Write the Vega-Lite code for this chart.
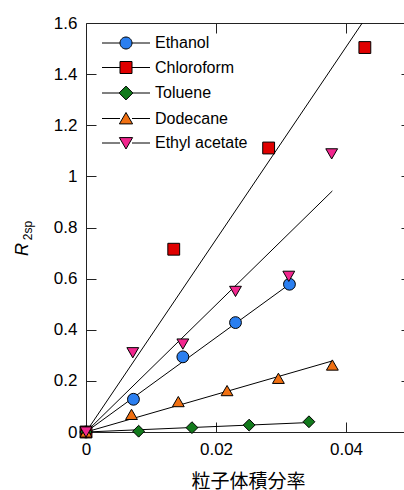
{
  "$schema": "https://vega.github.io/schema/vega-lite/v6.json",
  "width": 325,
  "height": 409,
  "autosize": {"type": "none"},
  "padding": {"left": 86, "top": 23, "right": 0, "bottom": 58},
  "background": "white",
  "config": {
    "view": {"stroke": "#222", "strokeWidth": 1},
    "font": "Liberation Sans",
    "axis": {"grid": false, "labelFlush": false, "labelOverlap": false}
  },
  "datasets": {
    "fits": [
      {"series": "Ethanol", "x": 0, "y": 0},
      {"series": "Ethanol", "x": 0.0313, "y": 0.578},
      {"series": "Chloroform", "x": 0, "y": 0},
      {"series": "Chloroform", "x": 0.0425, "y": 1.6},
      {"series": "Toluene", "x": 0, "y": 0},
      {"series": "Toluene", "x": 0.0343, "y": 0.037},
      {"series": "Dodecane", "x": 0, "y": 0},
      {"series": "Dodecane", "x": 0.0379, "y": 0.278},
      {"series": "Ethyl acetate", "x": 0, "y": 0},
      {"series": "Ethyl acetate", "x": 0.0379, "y": 0.943}
    ],
    "pts": [
      {"series": "Ethanol", "x": 0, "y": 0},
      {"series": "Ethanol", "x": 0.0073, "y": 0.128},
      {"series": "Ethanol", "x": 0.0149, "y": 0.294},
      {"series": "Ethanol", "x": 0.0230, "y": 0.428},
      {"series": "Ethanol", "x": 0.0313, "y": 0.578},
      {"series": "Chloroform", "x": 0, "y": 0},
      {"series": "Chloroform", "x": 0.0135, "y": 0.715},
      {"series": "Chloroform", "x": 0.0281, "y": 1.111},
      {"series": "Chloroform", "x": 0.0429, "y": 1.504},
      {"series": "Toluene", "x": 0, "y": 0},
      {"series": "Toluene", "x": 0.0081, "y": 0.003},
      {"series": "Toluene", "x": 0.0163, "y": 0.017},
      {"series": "Toluene", "x": 0.0251, "y": 0.027},
      {"series": "Toluene", "x": 0.0343, "y": 0.040},
      {"series": "Dodecane", "x": 0, "y": 0},
      {"series": "Dodecane", "x": 0.0070, "y": 0.069},
      {"series": "Dodecane", "x": 0.0142, "y": 0.119},
      {"series": "Dodecane", "x": 0.0217, "y": 0.162},
      {"series": "Dodecane", "x": 0.0296, "y": 0.210},
      {"series": "Dodecane", "x": 0.0379, "y": 0.262},
      {"series": "Ethyl acetate", "x": 0, "y": 0},
      {"series": "Ethyl acetate", "x": 0.0072, "y": 0.310},
      {"series": "Ethyl acetate", "x": 0.0149, "y": 0.344},
      {"series": "Ethyl acetate", "x": 0.0230, "y": 0.550},
      {"series": "Ethyl acetate", "x": 0.0312, "y": 0.609},
      {"series": "Ethyl acetate", "x": 0.0378, "y": 1.088}
    ]
  },
  "layer": [
    {
      "data": {"name": "fits"},
      "mark": {"type": "line", "color": "black", "strokeWidth": 1, "clip": true},
      "encoding": {
        "x": {
          "field": "x", "type": "quantitative",
          "scale": {"domain": [0, 0.05], "nice": false},
          "axis": {
            "orient": "bottom", "values": [0, 0.02, 0.04],
            "labelExpr": "datum.value == 0 ? '0' : format(datum.value, '.2f')",
            "domain": false, "tickSize": -10, "tickColor": "#222", "tickWidth": 1,
            "labelPadding": 19.5, "labelFontSize": 17, "labelColor": "black",
            "title": "粒子体積分率", "titleFont": "Noto Sans CJK JP", "titleFontSize": 19,
            "titleFontWeight": "normal", "titleColor": "black",
            "titleBaseline": "alphabetic", "titleAlign": "center", "titleX": 162, "titleY": 55
          }
        },
        "y": {
          "field": "y", "type": "quantitative",
          "scale": {"domain": [0, 1.6], "nice": false},
          "axis": {
            "orient": "left", "values": [0, 0.2, 0.4, 0.6, 0.8, 1, 1.2, 1.4, 1.6],
            "labelExpr": "format(datum.value, '~g')",
            "domain": false, "tickSize": -10, "tickColor": "#222", "tickWidth": 1,
            "labelPadding": 19, "labelFontSize": 17, "labelColor": "black",
            "title": "R", "titleFontStyle": "italic", "titleFontSize": 18,
            "titleFontWeight": "normal", "titleColor": "black", "titleAngle": 270,
            "titleBaseline": "alphabetic", "titleAlign": "center", "titleX": -59, "titleY": 226
          }
        },
        "detail": {"field": "series"}
      }
    },
    {
      "data": {"name": "pts"},
      "mark": {
        "type": "point", "filled": true, "opacity": 1, "size": 140, "stroke": "black", "strokeWidth": 1,
        "shape": {"expr": "datum.series === 'Ethanol' ? 'circle' : datum.series === 'Chloroform' ? 'square' : datum.series === 'Toluene' ? 'diamond' : datum.series === 'Dodecane' ? 'triangle-up' : 'triangle-down'"}
      },
      "encoding": {
        "x": {
          "field": "x", "type": "quantitative",
          "scale": {"domain": [0, 0.05], "nice": false},
          "axis": {
            "orient": "top", "values": [0.02, 0.04], "labels": false, "domain": false,
            "tickSize": -10, "tickColor": "#222", "tickWidth": 1,
            "title": "2sp", "titleFontSize": 12, "titleFontWeight": "normal", "titleColor": "black",
            "titleAngle": 270, "titleBaseline": "alphabetic", "titleAlign": "center",
            "titleX": -55, "titleY": 207
          }
        },
        "y": {
          "field": "y", "type": "quantitative",
          "scale": {"domain": [0, 1.6], "nice": false},
          "axis": {
            "orient": "right", "values": [0.2, 0.4, 0.6, 0.8, 1, 1.2, 1.4], "labels": false, "domain": false,
            "tickSize": -10, "tickColor": "#222", "tickWidth": 1, "title": null
          }
        },
        "color": {
          "field": "series", "type": "nominal",
          "scale": {
            "domain": ["Ethanol", "Chloroform", "Toluene", "Dodecane", "Ethyl acetate"],
            "range": ["#2b7ff0", "#e00000", "#127a1c", "#f07012", "#f2268e"]
          },
          "legend": {
            "orient": "none", "legendX": 32, "legendY": 12, "title": null, "padding": 0,
            "labelFontSize": 16, "labelColor": "black", "labelOffset": 21, "rowPadding": 8.5,
            "symbolSize": 144, "symbolOpacity": 1, "symbolStrokeColor": "black", "symbolStrokeWidth": 1,
            "symbolType": {"expr": "datum.value === 'Ethanol' ? 'M-4,0H-1M1,0H4M-1,0A1,1 0 1,0 1,0A1,1 0 1,0 -1,0Z' : datum.value === 'Chloroform' ? 'M-4,0H-1M1,0H4M-1,-1H1V1H-1Z' : datum.value === 'Toluene' ? 'M-4,0H-1.15M1.15,0H4M0,-1.15L1.15,0L0,1.15L-1.15,0Z' : datum.value === 'Dodecane' ? 'M-4,0H-1M1,0H4M0,-1L1.1,0.9L-1.1,0.9Z' : 'M-4,0H-1M1,0H4M0,1L1.1,-0.9L-1.1,-0.9Z'"}
          }
        }
      }
    }
  ],
  "resolve": {"axis": {"x": "independent", "y": "independent"}}
}
